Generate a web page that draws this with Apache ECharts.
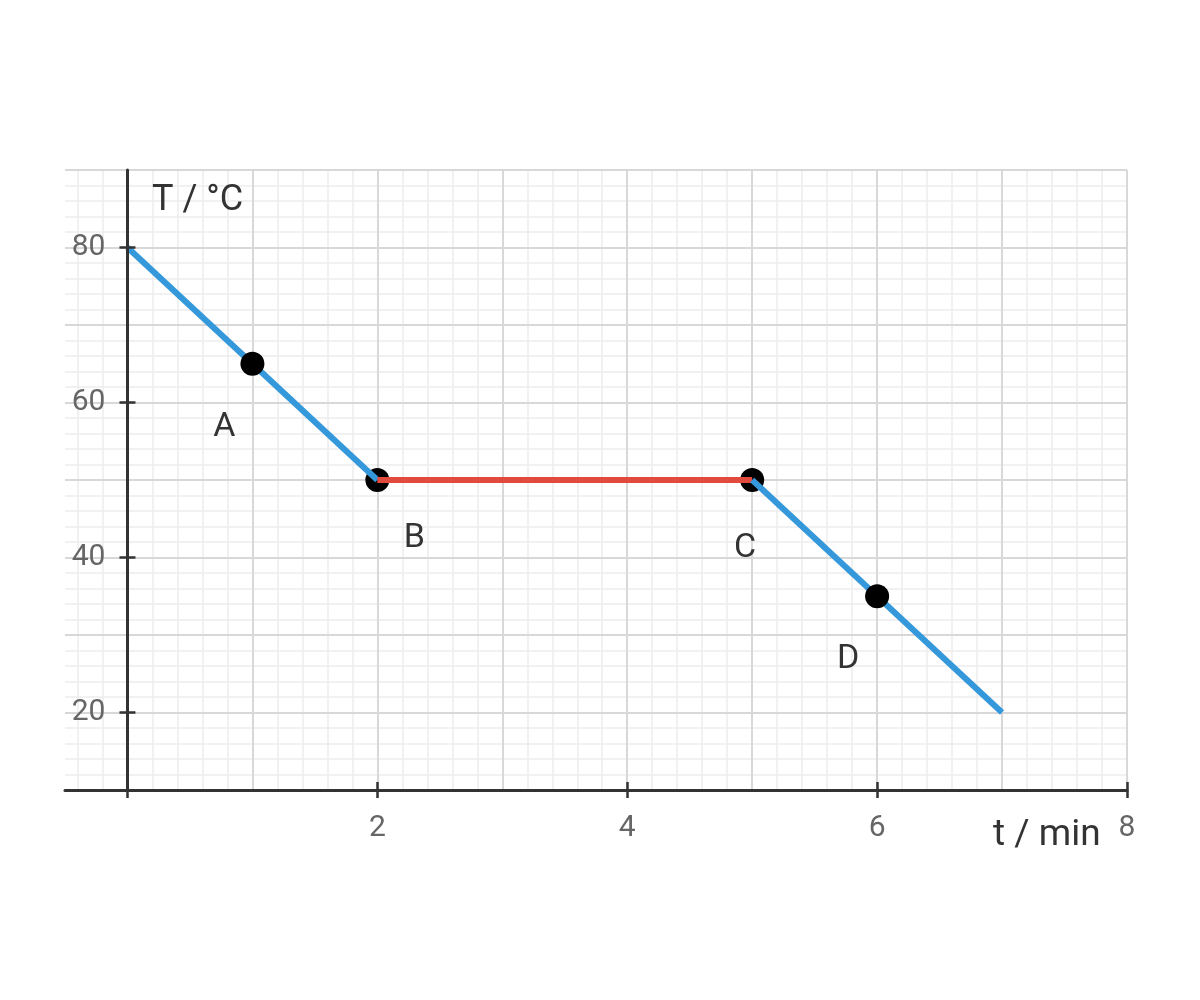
<!DOCTYPE html>
<html>
<head>
<meta charset="utf-8">
<script src="https://cdn.jsdelivr.net/npm/echarts@6/dist/echarts.min.js"></script>
<style>
  html, body { margin: 0; padding: 0; background: #fff; }
  #main { width: 1200px; height: 1000px; }
</style>
</head>
<body>
<div id="main"></div>
<script>
// data
var coolTime1 = [0, 2];
var coolTemp1 = [80, 50];
var plateauTime = [2, 5];
var plateauTemp = [50, 50];
var coolTime2 = [5, 7];
var coolTemp2 = [50, 20];

var pointNames = ['A', 'B', 'C', 'D'];
var pointTime = [1, 2, 5, 6];
var pointTemp = [65, 50, 50, 35];

var xTickLabels = [2, 4, 6, 8];
var yTickLabels = [20, 40, 60, 80];

// plot frame
var PL = 65, PR = 1127, PT = 170, PB = 790;
var XMIN = -0.5, XMAX = 8, YMIN = 10, YMAX = 90;
function px(v) { return PL + (v - XMIN) / (XMAX - XMIN) * (PR - PL); }
function py(v) { return PT + (YMAX - v) / (YMAX - YMIN) * (PB - PT); }

var minorColor = '#ececec';
var majorColor = '#d8d8d8';
var axisColor = '#333';
var font = 'Roboto, "Noto Sans", sans-serif';

function pairs(xs, ys) {
  return xs.map(function (x, i) { return [x, ys[i]]; });
}

// label offsets for the point letters
var labelOffset = { A: [-28, 64], B: [37, 58], C: [-7, 68], D: [-29, 63] };

function pointData(filter) {
  var out = [];
  pointNames.forEach(function (n, i) {
    if (filter(n)) {
      out.push({
        name: n,
        value: [pointTime[i], pointTemp[i]],
        label: { offset: labelOffset[n] }
      });
    }
  });
  return out;
}

var hidden = { axisLine: { show: false }, axisTick: { show: false }, axisLabel: { show: false }, splitLine: { show: false } };
function ax(o) { return Object.assign({ type: 'value' }, JSON.parse(JSON.stringify(hidden)), o); }

var myChart = echarts.init(document.getElementById('main'));

var pointLabel = {
  show: true,
  position: 'inside',
  formatter: '{b}',
  color: '#333',
  fontSize: 34,
  fontFamily: font
};

var option = {
  animation: false,
  backgroundColor: '#fff',
  grid: [
    { left: PL, top: PT, width: PR - PL, height: PB - PT },
    { left: px(-0.4), top: PT, width: PR - px(-0.4), height: PB - PT },
    { left: px(0), top: PT, width: PR - px(0), height: PB - PT },
    { left: px(0), top: py(80), width: PR - px(0), height: py(20) - py(80) }
  ],
  xAxis: [
    ax({ gridIndex: 0, position: 'bottom', min: XMIN, max: XMAX, z: 5,
         axisLine: { show: true, onZero: false, lineStyle: { color: axisColor, width: 3 } } }),
    ax({ gridIndex: 1, position: 'bottom', min: -0.4, max: XMAX, interval: 0.2, z: 0,
         splitLine: { show: true, lineStyle: { color: minorColor, width: 1.5 } } }),
    ax({ gridIndex: 2, position: 'bottom', min: 0, max: XMAX, interval: 1, z: 1,
         splitLine: { show: true, lineStyle: { color: majorColor, width: 2 } } }),
    ax({ gridIndex: 2, position: 'bottom', min: 0, max: XMAX, interval: 2, z: 5,
         axisTick: { show: true, length: 8, lineStyle: { color: axisColor, width: 2.5 } },
         axisLabel: { show: true, margin: 23, color: '#666', fontSize: 30, fontFamily: font,
                      formatter: function (v) { return xTickLabels.indexOf(v) >= 0 ? String(v) : ''; } } }),
    ax({ gridIndex: 2, position: 'bottom', min: 0, max: XMAX, interval: 2, z: 5,
         axisTick: { show: true, inside: true, length: 8, lineStyle: { color: axisColor, width: 2.5 } } }),
    ax({ gridIndex: 3, position: 'bottom', min: 0, max: XMAX })
  ],
  yAxis: [
    ax({ gridIndex: 0, position: 'left', min: YMIN, max: YMAX, interval: 2, z: 0,
         splitLine: { show: true, lineStyle: { color: minorColor, width: 1.5 } } }),
    ax({ gridIndex: 0, position: 'left', min: YMIN, max: YMAX, interval: 10, z: 1,
         splitLine: { show: true, lineStyle: { color: majorColor, width: 2 } } }),
    ax({ gridIndex: 1, position: 'left', min: YMIN, max: YMAX }),
    ax({ gridIndex: 2, position: 'left', min: YMIN, max: YMAX, z: 5,
         axisLine: { show: true, onZero: false, lineStyle: { color: axisColor, width: 3 } } }),
    ax({ gridIndex: 3, position: 'left', min: 20, max: 80, interval: 20, z: 5,
         axisTick: { show: true, length: 8, lineStyle: { color: axisColor, width: 2.5 } },
         axisLabel: { show: true, margin: 22, color: '#666', fontSize: 30, fontFamily: font,
                      formatter: function (v) { return yTickLabels.indexOf(v) >= 0 ? String(v) : ''; } } }),
    ax({ gridIndex: 3, position: 'left', min: 20, max: 80, interval: 20, z: 5,
         axisTick: { show: true, inside: true, length: 8, lineStyle: { color: axisColor, width: 2.5 } } })
  ],
  graphic: [
    { type: 'text', left: 152, top: 183, z: 10,
      style: { text: 'T / °C', fill: '#333', font: '36px ' + font } },
    { type: 'text', left: 993, top: 817, z: 10,
      style: { text: 't / min', fill: '#333', font: '37px ' + font } }
  ],
  series: [
    { type: 'scatter', xAxisIndex: 0, yAxisIndex: 0, z: 2,
      symbolSize: 24, itemStyle: { color: '#000', opacity: 1 },
      label: pointLabel,
      data: pointData(function (n) { return n === 'B' || n === 'C'; }) },
    { type: 'line', xAxisIndex: 0, yAxisIndex: 0, z: 3, showSymbol: false,
      lineStyle: { color: '#3498db', width: 6 }, data: pairs(coolTime1, coolTemp1) },
    { type: 'line', xAxisIndex: 0, yAxisIndex: 0, z: 3, showSymbol: false,
      lineStyle: { color: '#e04b3d', width: 6 }, data: pairs(plateauTime, plateauTemp) },
    { type: 'line', xAxisIndex: 0, yAxisIndex: 0, z: 3, showSymbol: false,
      lineStyle: { color: '#3498db', width: 6 }, data: pairs(coolTime2, coolTemp2) },
    { type: 'scatter', xAxisIndex: 0, yAxisIndex: 0, z: 4,
      symbolSize: 24, itemStyle: { color: '#000', opacity: 1 },
      label: pointLabel,
      data: pointData(function (n) { return n === 'A' || n === 'D'; }) }
  ]
};

myChart.setOption(option);
</script>
</body>
</html>
